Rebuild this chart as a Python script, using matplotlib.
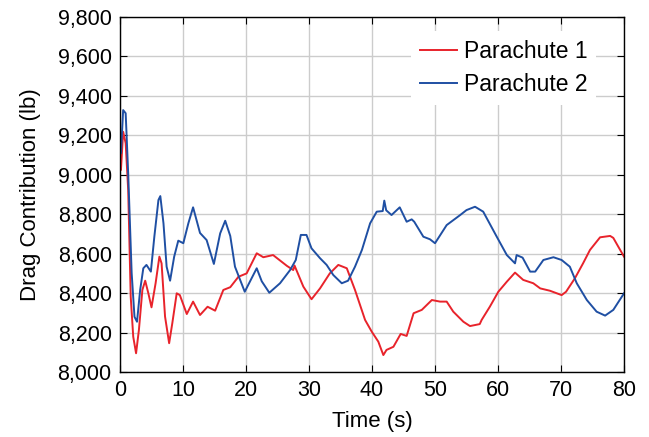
import numpy as np
import matplotlib.pyplot as plt
from matplotlib.ticker import FuncFormatter

plt.rcParams['font.family'] = ['Liberation Sans', 'DejaVu Sans']

# Parachute 1 drag contribution
t1 = [0.0, 0.15, 0.5, 0.9, 1.3, 1.7, 2.1, 2.55, 3.0, 3.55, 4.0, 4.5, 5.0, 5.65,
      6.25, 6.6, 7.15, 7.8, 8.3, 9.0, 9.5, 10.6, 11.6, 12.7, 13.9, 15.1, 16.4,
      17.5, 18.8, 20.1, 21.7, 22.75, 24.3, 26.5, 27.5, 27.7, 29.1, 30.4, 31.75,
      33.3, 34.65, 36.0, 37.3, 38.9, 39.95, 41.0, 41.8, 42.3, 43.4, 44.55, 45.5,
      46.6, 47.9, 49.5, 50.8, 51.85, 52.9, 54.5, 55.55, 57.1, 57.4, 58.7, 60.05,
      61.4, 62.7, 64.0, 65.6, 66.7, 68.25, 70.1, 70.8, 72.2, 73.5, 74.6, 76.2,
      77.8, 78.3, 79.1, 80.0]
p1 = [9033, 9024, 9218, 9160, 8923, 8382, 8179, 8095, 8213, 8416, 8463, 8399,
      8328, 8450, 8585, 8551, 8281, 8146, 8247, 8399, 8390, 8294, 8357, 8289,
      8331, 8311, 8416, 8430, 8483, 8500, 8602, 8582, 8593, 8538, 8517, 8540,
      8433, 8369, 8424, 8500, 8543, 8526, 8416, 8264, 8205, 8154, 8086, 8112,
      8128, 8193, 8183, 8298, 8315, 8365, 8357, 8357, 8306, 8255, 8233, 8243,
      8264, 8331, 8407, 8458, 8504, 8467, 8450, 8424, 8412, 8390, 8407, 8475,
      8551, 8619, 8683, 8690, 8680, 8635, 8585]

# Parachute 2 drag contribution
t2 = [0.0, 0.15, 0.5, 0.9, 1.3, 1.85, 2.3, 2.7, 3.2, 3.7, 4.2, 4.9, 5.45, 6.1,
      6.4, 6.9, 7.4, 7.95, 8.6, 9.25, 10.05, 10.85, 11.6, 12.7, 13.75, 14.9,
      15.9, 16.7, 17.5, 18.25, 19.8, 21.7, 22.5, 23.7, 25.4, 27.0, 27.9, 28.7,
      29.6, 30.4, 31.75, 32.8, 33.85, 35.2, 36.2, 37.3, 38.4, 39.7, 40.75, 41.7,
      41.95, 42.25, 43.1, 44.4, 45.5, 46.3, 46.7, 48.15, 49.2, 50.0, 51.85,
      54.0, 55.0, 56.35, 57.65, 59.8, 61.4, 62.7, 62.95, 63.9, 65.1, 65.9,
      67.2, 68.8, 70.1, 71.4, 72.5, 74.1, 75.65, 77.0, 78.3, 80.0]
p2 = [9109, 9109, 9328, 9312, 9007, 8502, 8280, 8255, 8416, 8526, 8543, 8509,
      8686, 8872, 8892, 8754, 8534, 8463, 8585, 8666, 8653, 8754, 8835, 8705,
      8669, 8548, 8703, 8767, 8690, 8534, 8407, 8526, 8460, 8402, 8450, 8517,
      8568, 8695, 8695, 8627, 8577, 8543, 8492, 8450, 8463, 8534, 8619, 8754,
      8813, 8816, 8869, 8820, 8796, 8835, 8762, 8774, 8762, 8686, 8673, 8653,
      8745, 8796, 8821, 8838, 8813, 8686, 8593, 8551, 8593, 8580, 8509, 8509,
      8568, 8582, 8568, 8534, 8450, 8365, 8306, 8286, 8315, 8399]

fig = plt.figure(figsize=(6.49, 4.37), dpi=100)
ax = fig.add_axes([0.1849, 0.1487, 0.7766, 0.8124])

ax.plot(t1, p1, color='#e8232b', lw=1.4, label='Parachute 1')
ax.plot(t2, p2, color='#1f4fa3', lw=1.4, label='Parachute 2')

ax.set_xlim(0, 80)
ax.set_ylim(8000, 9800)
ax.set_xticks(np.arange(0, 81, 10))
ax.set_yticks(np.arange(8000, 9801, 200))
ax.yaxis.set_major_formatter(FuncFormatter(lambda v, pos: f'{int(v):,}'))
ax.grid(True, color='#cccccc', lw=1.0)
ax.set_axisbelow(True)
ax.tick_params(direction='in', top=True, right=True, labelsize=15.5,
               length=5, width=0.8, pad=6)
for s in ax.spines.values():
    s.set_linewidth(1.0)

ax.set_xlabel('Time (s)', fontsize=16, labelpad=7)
ax.set_ylabel('Drag Contribution (lb)', fontsize=16, labelpad=12)

leg = ax.legend(loc='upper right', bbox_to_anchor=(0.945, 0.96), fontsize=16.5,
                frameon=True, fancybox=False, handlelength=1.6,
                handletextpad=0.3, borderpad=0.4, labelspacing=0.4,
                borderaxespad=0)
leg.get_frame().set_edgecolor('none')
leg.get_frame().set_facecolor('white')
leg.get_frame().set_alpha(1.0)

fig.savefig('out.png', dpi=100)
